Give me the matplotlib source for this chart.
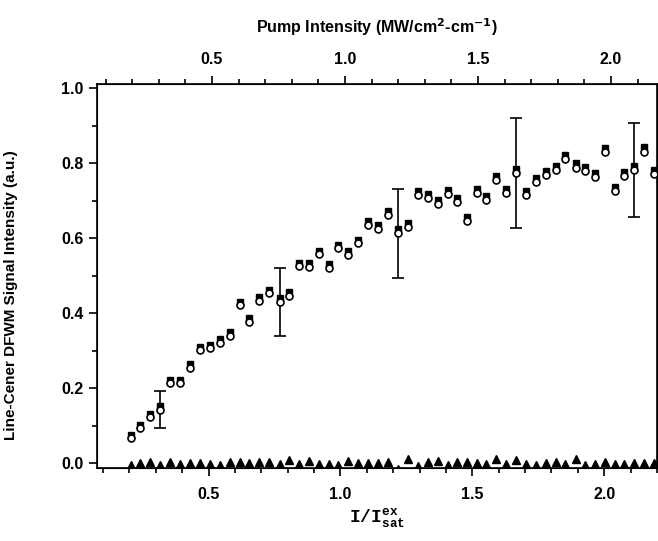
import matplotlib
matplotlib.use('Agg')
import matplotlib.pyplot as plt
from matplotlib.ticker import MultipleLocator

plt.rcParams['font.family'] = ['Liberation Sans', 'DejaVu Sans']
plt.rcParams['mathtext.fontset'] = 'custom'
plt.rcParams['mathtext.tt'] = 'Liberation Mono:bold'
plt.rcParams['mathtext.rm'] = 'Liberation Sans'

# x positions (I/Isat)
x_ratio = [0.205, 0.241, 0.278, 0.317, 0.355, 0.391, 0.431, 0.469, 0.505, 0.543,
           0.580, 0.619, 0.655, 0.693, 0.730, 0.769, 0.806, 0.842, 0.880, 0.918,
           0.955, 0.992, 1.029, 1.067, 1.106, 1.144, 1.182, 1.220, 1.255, 1.295,
           1.333, 1.369, 1.406, 1.442, 1.478, 1.516, 1.553, 1.591, 1.628, 1.666,
           1.703, 1.741, 1.779, 1.817, 1.853, 1.891, 1.928, 1.965, 2.003, 2.039,
           2.076, 2.114, 2.152, 2.188]

# open circles
sig_circ = [0.067, 0.095, 0.122, 0.143, 0.214, 0.214, 0.255, 0.301, 0.306, 0.321,
            0.339, 0.421, 0.376, 0.433, 0.453, 0.430, 0.447, 0.525, 0.523, 0.557,
            0.521, 0.573, 0.555, 0.586, 0.635, 0.624, 0.661, 0.613, 0.630, 0.715,
            0.708, 0.692, 0.717, 0.697, 0.645, 0.721, 0.701, 0.755, 0.721, 0.773,
            0.715, 0.749, 0.768, 0.781, 0.810, 0.788, 0.779, 0.763, 0.829, 0.725,
            0.765, 0.781, 0.830, 0.771]

# filled squares (sit just above the circles)
sig_sq = [0.075, 0.103, 0.131, 0.152, 0.223, 0.223, 0.264, 0.310, 0.315, 0.331,
          0.349, 0.431, 0.386, 0.443, 0.463, 0.440, 0.457, 0.535, 0.533, 0.567,
          0.531, 0.583, 0.565, 0.596, 0.646, 0.635, 0.672, 0.624, 0.641, 0.726,
          0.719, 0.703, 0.728, 0.708, 0.656, 0.732, 0.712, 0.766, 0.732, 0.784,
          0.726, 0.760, 0.779, 0.793, 0.822, 0.800, 0.791, 0.775, 0.841, 0.737,
          0.777, 0.793, 0.842, 0.783]

# filled triangles near zero
sig_tri = [-0.004, 0.001, 0.004, -0.004, 0.003, -0.003, 0.001, 0.001, -0.002, -0.004,
           0.004, 0.004, 0.001, 0.003, 0.004, -0.002, 0.008, -0.003, 0.005, -0.002,
           -0.003, -0.004, 0.006, 0.000, 0.001, 0.001, 0.004, -0.015, 0.012, -0.008,
           0.004, 0.005, -0.004, 0.003, 0.003, 0.000, -0.003, 0.012, -0.001, 0.008,
           -0.002, -0.004, 0.001, 0.002, -0.003, 0.010, -0.004, -0.001, 0.003, -0.001,
           -0.001, 0.000, 0.000, 0.000]

# error bars on a few of the circles
err_idx = [3, 15, 27, 39, 51]
err_half = [0.049, 0.090, 0.118, 0.147, 0.125]

fig = plt.figure(figsize=(6.58, 5.41), dpi=100)
ax = fig.add_axes([0.1474, 0.1349, 0.8511, 0.7098])

ax.errorbar([x_ratio[i] for i in err_idx], [sig_circ[i] for i in err_idx],
            yerr=err_half, fmt='none', ecolor='black', elinewidth=1.2,
            capsize=4.5, capthick=1.2, zorder=2)
ax.plot(x_ratio, sig_sq, 's', color='black', markersize=4.6, zorder=3)
ax.plot(x_ratio, sig_circ, 'o', mfc='white', mec='black', mew=1.2,
        markersize=5, zorder=4)
ax.plot(x_ratio, sig_tri, '^', color='black', markersize=5.5, zorder=3)

ax.set_xlim(0.077, 2.2)
ax.set_ylim(-0.013, 1.011)
ax.xaxis.set_major_locator(MultipleLocator(0.5))
ax.xaxis.set_minor_locator(MultipleLocator(0.1))
ax.yaxis.set_major_locator(MultipleLocator(0.2))
ax.yaxis.set_minor_locator(MultipleLocator(0.1))
ax.tick_params(which='both', direction='out', width=1.2, labelsize=11.5,
               right=False, top=False)
ax.tick_params(which='major', length=6)
ax.tick_params(which='minor', length=3.5)
ax.tick_params(axis='x', pad=8)
for lab in ax.get_xticklabels() + ax.get_yticklabels():
    lab.set_fontweight('bold')
for sp in ax.spines.values():
    sp.set_linewidth(1.2)

ax.set_xlabel(r'$\mathtt{I/I}_{\mathtt{sat}}^{\mathtt{ex}}$', fontsize=13)
ax.xaxis.set_label_coords(0.5, -0.1)
ax.set_ylabel('Line-Cener DFWM Signal Intensity (a.u.)', fontsize=11,
              fontweight='bold')
ax.yaxis.set_label_coords(-0.141, 0.45)

# top axis: pump intensity
top = ax.twiny()
top.set_xlim(0.068, 2.173)
top.xaxis.set_major_locator(MultipleLocator(0.5))
top.xaxis.set_minor_locator(MultipleLocator(0.1))
top.tick_params(which='both', direction='out', width=1.2, labelsize=11.5)
top.tick_params(which='major', length=6)
top.tick_params(which='minor', length=3.5)
top.tick_params(axis='x', pad=6)
for lab in top.get_xticklabels():
    lab.set_fontweight('bold')
top.set_xlabel(r'Pump Intensity (MW/cm$^{\mathbf{2}}$-cm$^{\mathbf{-1}}$)',
               fontsize=11.5, fontweight='bold', labelpad=14)

fig.savefig('out.png', dpi=100)
